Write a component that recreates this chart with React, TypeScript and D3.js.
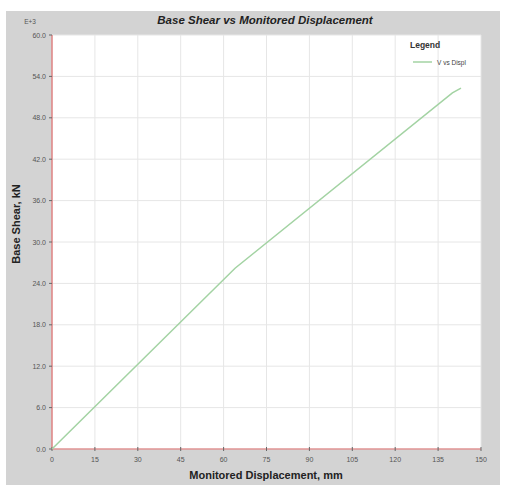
import React from "react";
import * as d3 from "d3";

const dispMm = [0, 64, 140, 143];
const shearKN = [0, 26.2, 51.6, 52.3];
const xTicks = [0, 15, 30, 45, 60, 75, 90, 105, 120, 135, 150];
const yTicks = [0, 6, 12, 18, 24, 30, 36, 42, 48, 54, 60];
const title = "Base Shear vs Monitored Displacement";
const xLabel = "Monitored Displacement, mm";
const yLabel = "Base Shear, kN";
const seriesName = "V vs Displ";

export default function App() {
  const W = 508, H = 486;
  const left = 52, right = 481, top = 35, bottom = 449;
  const x = d3.scaleLinear().domain([0, 150]).range([left, right]);
  const y = d3.scaleLinear().domain([0, 60]).range([bottom, top]);
  const pts = dispMm.map((d, i) => [d, shearKN[i]] as [number, number]);
  const line = d3.line<[number, number]>().x(d => x(d[0])).y(d => y(d[1]));
  const font = "Liberation Sans, Arial, sans-serif";
  return (
    <svg width={W} height={H} style={{ position: "absolute", left: 0, top: 0, background: "#fff" }} fontFamily={font}>
      <rect x={6} y={11} width={494} height={474} fill="#d3d3d3" />
      <rect x={left} y={top} width={right - left} height={bottom - top} fill="#fff" />
      {xTicks.map(t => (
        <line key={"gx" + t} x1={x(t)} x2={x(t)} y1={top} y2={bottom} stroke="#e6e6e6" strokeWidth={1} />
      ))}
      {yTicks.map(t => (
        <line key={"gy" + t} x1={left} x2={right} y1={y(t)} y2={y(t)} stroke="#e6e6e6" strokeWidth={1} />
      ))}
      <line x1={left} x2={left} y1={top} y2={bottom} stroke="#dd6a6a" strokeWidth={1.2} />
      <line x1={left} x2={right} y1={bottom} y2={bottom} stroke="#dd6a6a" strokeWidth={1.2} />
      {xTicks.map(t => (
        <g key={"tx" + t}>
          <line x1={x(t)} x2={x(t)} y1={bottom - 2} y2={bottom + 2} stroke="#666" strokeWidth={1} />
          <text x={x(t)} y={bottom + 13} fontSize={7} fill="#555" textAnchor="middle">{t}</text>
        </g>
      ))}
      {yTicks.map(t => (
        <g key={"ty" + t}>
          <line x1={left - 3} x2={left} y1={y(t)} y2={y(t)} stroke="#666" strokeWidth={1} />
          <text x={left - 6} y={y(t) + 2.5} fontSize={7} fill="#555" textAnchor="end">{t.toFixed(1)}</text>
        </g>
      ))}
      <text x={30} y={24} fontSize={6.5} fill="#555" textAnchor="middle">E+3</text>
      <path d={line(pts) || ""} fill="none" stroke="#a3d3a3" strokeWidth={1.5} />
      <text x={265} y={24} fontSize={11.5} fontWeight="bold" fontStyle="italic" fill="#222" textAnchor="middle">{title}</text>
      <text x={266} y={479} fontSize={11} fontWeight="bold" fill="#222" textAnchor="middle">{xLabel}</text>
      <text transform={`translate(20,${224}) rotate(-90)`} fontSize={11} fontWeight="bold" fill="#222" textAnchor="middle">{yLabel}</text>
      <text x={410} y={48} fontSize={8.5} fontWeight="bold" fill="#333">Legend</text>
      <line x1={413} x2={432} y1={62} y2={62} stroke="#a3d3a3" strokeWidth={1.5} />
      <text x={437} y={64.5} fontSize={6.5} fill="#444">{seriesName}</text>
    </svg>
  );
}
